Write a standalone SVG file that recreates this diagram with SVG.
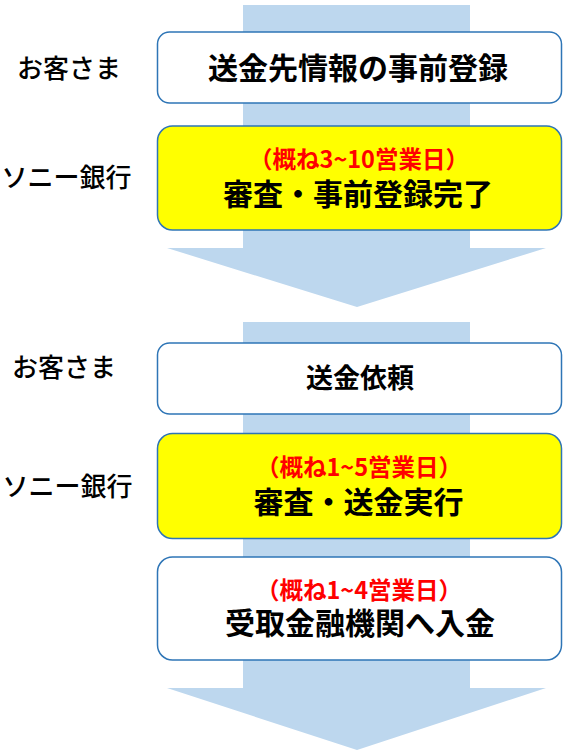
<svg xmlns="http://www.w3.org/2000/svg" width="574" height="754" viewBox="0 0 574 754">
<style>
.arrow{fill:#BDD7EE;stroke:none}
.box{stroke:#2E75B6;stroke-width:1.5}
.white{fill:#FFFFFF}
.yellow{fill:#FFFF00}
text{font-family:"Noto Sans CJK JP","Noto Sans CJK SC",sans-serif;text-anchor:middle;dominant-baseline:central}
.main{font-size:30px;font-weight:bold;fill:#000}
.mid{font-size:27px;font-weight:bold;fill:#000}
.red{font-size:23.5px;font-weight:bold;fill:#FF0000}
.side{font-size:26px;font-weight:500;fill:#000}
</style>
<rect width="574" height="754" fill="#FFFFFF"/>
<g id="connectors">
<path class="arrow" d="M243,5 H470 V248 H546 L357,307 L167,248 H243 Z"/>
<path class="arrow" d="M243,322 H470 V688 H546 L357,750 L167,688 H243 Z"/>
</g>
<g id="label-customer-1"><text class="side" x="69" y="66">お客さま</text></g>
<g id="label-bank-1"><text class="side" x="66.5" y="175">ソニー銀行</text></g>
<g id="label-customer-2"><text class="side" x="64" y="365">お客さま</text></g>
<g id="label-bank-2"><text class="side" x="67.5" y="484">ソニー銀行</text></g>
<g id="node-register">
<rect class="box white" x="157.5" y="32" width="404" height="71" rx="12"/>
<text class="main" x="358" y="66">送金先情報の事前登録</text>
</g>
<g id="node-review-register">
<rect class="box yellow" x="157.5" y="126" width="404" height="104" rx="15"/>
<text class="red" x="359" y="158">（概ね3~10営業日）</text>
<text class="main" x="358" y="191.5">審査・事前登録完了</text>
</g>
<g id="node-request">
<rect class="box white" x="157.5" y="343" width="404" height="71" rx="12"/>
<text class="mid" x="360" y="376">送金依頼</text>
</g>
<g id="node-review-send">
<rect class="box yellow" x="157.5" y="433.5" width="404" height="105" rx="15"/>
<text class="red" x="359" y="466">（概ね1~5営業日）</text>
<text class="main" x="358.5" y="500">審査・送金実行</text>
</g>
<g id="node-deposit">
<rect class="box white" x="157.5" y="557" width="404" height="103" rx="15"/>
<text class="red" x="359" y="589">（概ね1~4営業日）</text>
<text class="main" x="360" y="621">受取金融機関へ入金</text>
</g>
</svg>
